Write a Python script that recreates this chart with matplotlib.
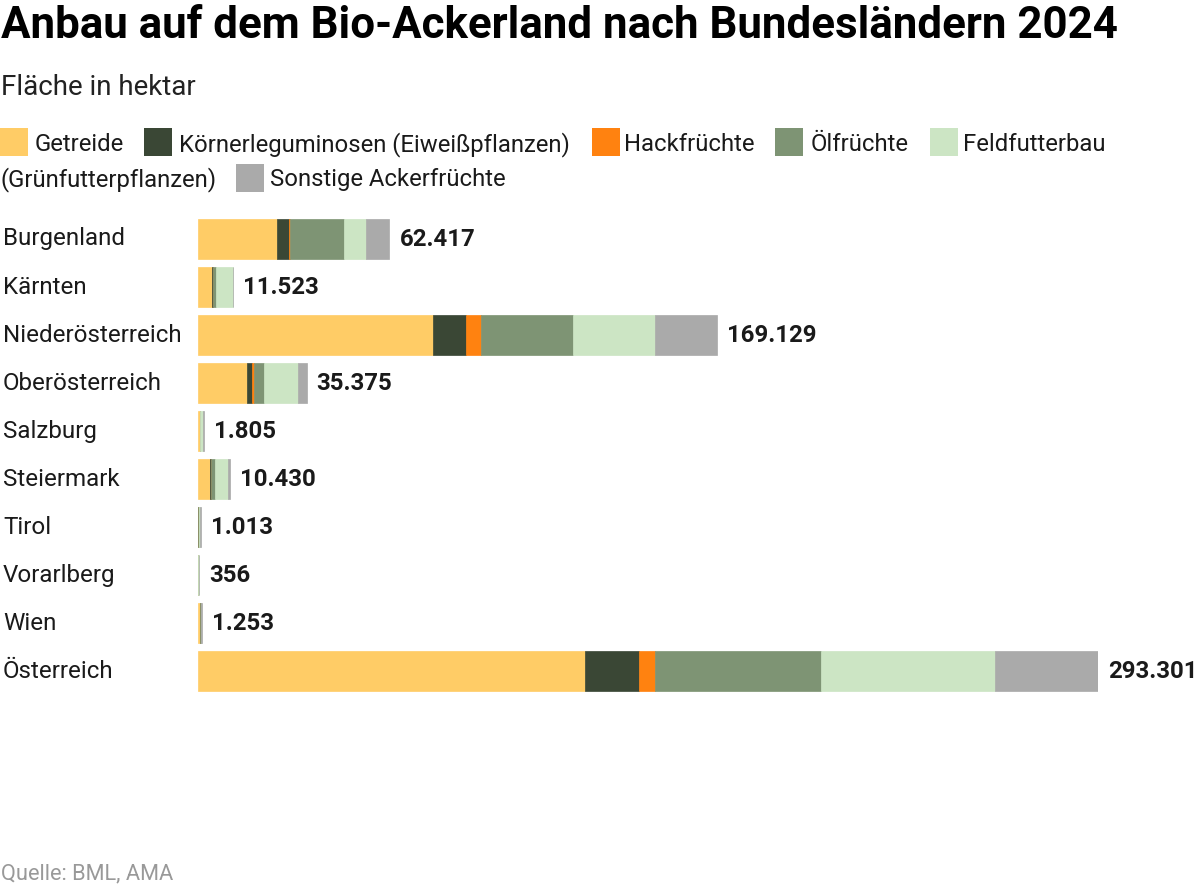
import numpy as np
import matplotlib.pyplot as plt
import matplotlib.transforms as mtransforms
from matplotlib.patches import Rectangle

plt.rcParams['font.family'] = ['Roboto', 'DejaVu Sans']

regions = ['Burgenland', 'Kärnten', 'Niederösterreich', 'Oberösterreich', 'Salzburg',
           'Steiermark', 'Tirol', 'Vorarlberg', 'Wien', 'Österreich']
totals = ['62.417', '11.523', '169.129', '35.375', '1.805', '10.430', '1.013', '356', '1.253', '293.301']

categories = ['Getreide', 'Körnerleguminosen (Eiweißpflanzen)', 'Hackfrüchte', 'Ölfrüchte',
              'Feldfutterbau (Grünfutterpflanzen)', 'Sonstige Ackerfrüchte']
colors = ['#ffcc66', '#3a4735', '#ff8210', '#7e9474', '#cce5c4', '#aaaaaa']

# hectares per crop group
getreide = [25600, 4700, 76500, 15850, 600, 4000, 150, 40, 700, 126100]
koerner = [3950, 50, 11000, 1900, 10, 100, 5, 2, 30, 17760]
hack = [450, 20, 4600, 350, 5, 30, 3, 1, 20, 5215]
oel = [17700, 1250, 30000, 3250, 40, 1400, 20, 5, 100, 54100]
feld = [7200, 5250, 26750, 11150, 1000, 4350, 600, 200, 150, 56500]
sonst = [7500, 250, 20280, 2875, 150, 550, 235, 108, 253, 33626]

series = [getreide, koerner, hack, oel, feld, sonst]

W, H = 1200, 888
fig = plt.figure(figsize=(W / 100, H / 100), dpi=100)

# bar area in pixels
x0, x1 = 198, 1098
ytop, ybot = 215, 695
ax = fig.add_axes([x0 / W, 1 - ybot / H, (x1 - x0) / W, (ybot - ytop) / H])
ax.set_xlim(0, 293301)
ax.set_ylim(len(regions) - 0.5, -0.5)
ax.axis('off')

y = np.arange(len(regions))
left = np.zeros(len(regions))
for vals, c in zip(series, colors):
    ax.barh(y, vals, left=left, height=0.85, color=c, edgecolor=c, linewidth=0.5)
    left += np.array(vals)

# region names at left figure edge
lab_tr = mtransforms.blended_transform_factory(fig.transFigure, ax.transData)
for i, r in enumerate(regions):
    ax.text(3 / W, i, r, transform=lab_tr, ha='left', va='center', fontsize=17.4, color='#1a1a1a')

# totals after bar end
off = mtransforms.offset_copy(ax.transData, fig=fig, x=10, y=0, units='dots')
for i, t in enumerate(totals):
    ax.text(left[i], i, t, transform=off, ha='left', va='center', fontsize=17.3,
            fontweight='bold', color='#1a1a1a')

# title and subtitle
fig.text(1 / W, 1 - 26 / H, 'Anbau auf dem Bio-Ackerland nach Bundesländern 2024',
         ha='left', va='center', fontsize=31.6, fontweight='bold', color='#000000')
fig.text(1 / W, 1 - 87 / H, 'Fläche in hektar', ha='left', va='center', fontsize=20, color='#222222')

# legend (wrapping in two rows as in the original); rows: (square top, text baseline)
rows = [(128, 151), (164, 186)]
legend_items = [
    (0, 0, 35, colors[0], 'Getreide'),
    (144, 0, 179, colors[1], 'Körnerleguminosen (Eiweißpflanzen)'),
    (592, 0, 624, colors[2], 'Hackfrüchte'),
    (775, 0, 811, colors[3], 'Ölfrüchte'),
    (930, 0, 963, colors[4], 'Feldfutterbau'),
    (236, 1, 270, colors[5], 'Sonstige Ackerfrüchte'),
]
for sx, row, tx, c, lab in legend_items:
    top, base = rows[row]
    fig.patches.append(Rectangle((sx / W, 1 - (top + 28) / H), 28 / W, 28 / H,
                                 transform=fig.transFigure, color=c, linewidth=0))
    fig.text(tx / W, 1 - base / H, lab, ha='left', va='baseline', fontsize=17.2, color='#1a1a1a')
fig.text(1 / W, 1 - rows[1][1] / H, '(Grünfutterpflanzen)', ha='left', va='baseline',
         fontsize=17.2, color='#1a1a1a')

fig.text(1 / W, 1 - 874 / H, 'Quelle: BML, AMA', ha='left', va='center', fontsize=15.7, color='#999999')

fig.savefig('out.png', dpi=100, facecolor='white')
